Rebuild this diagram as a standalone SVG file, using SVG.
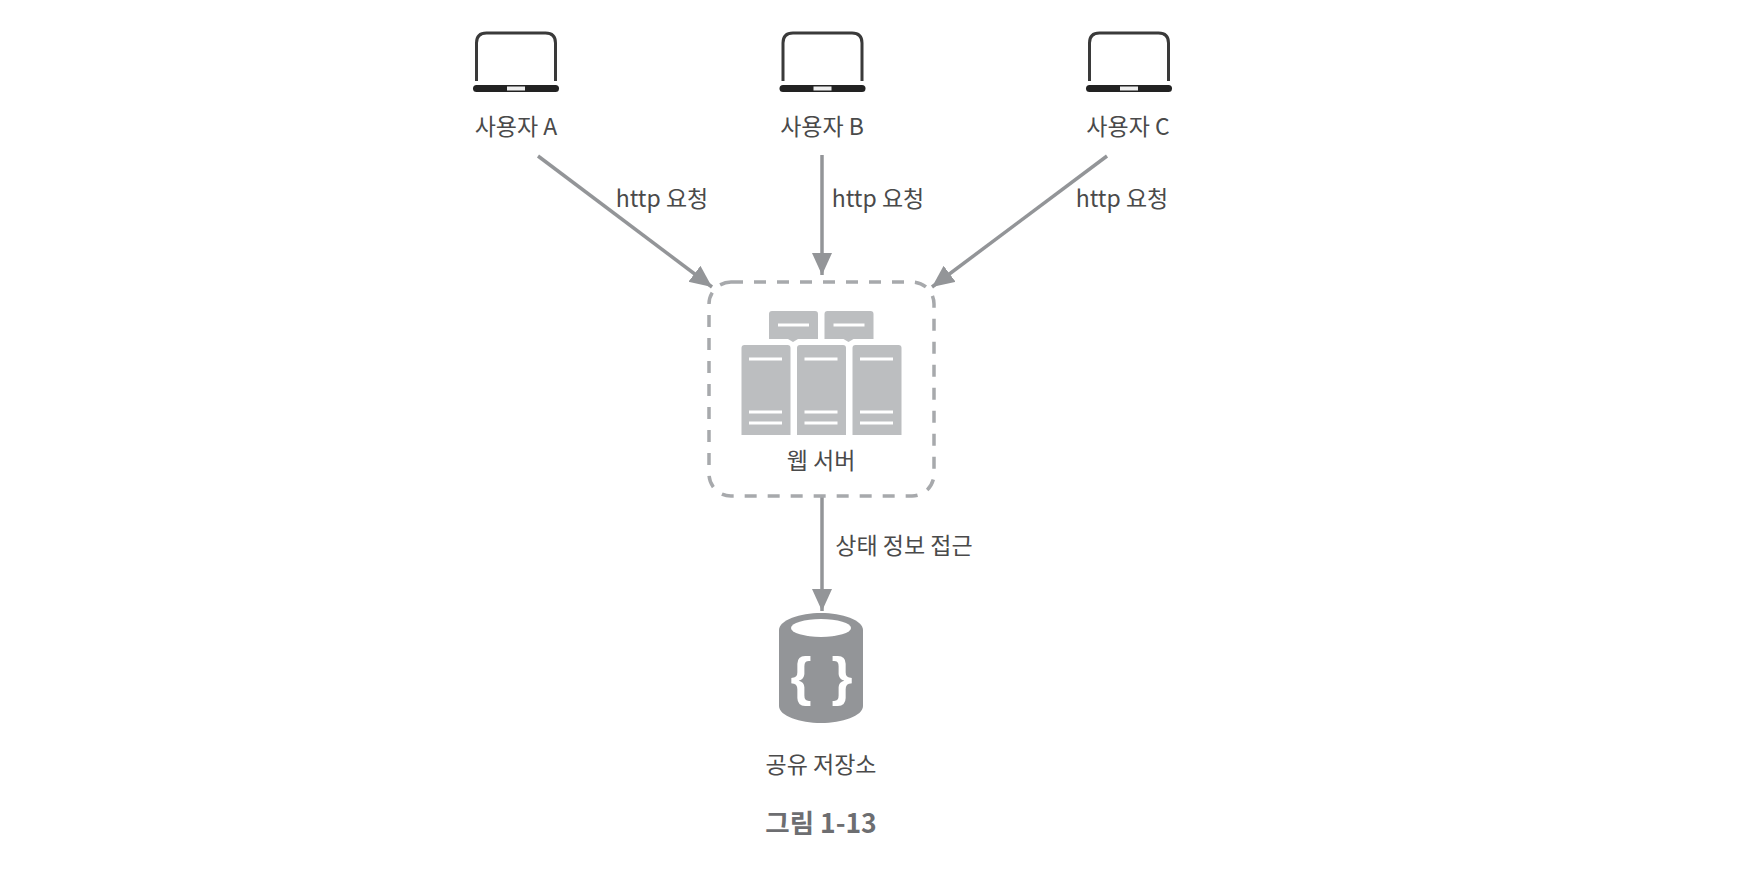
<svg xmlns="http://www.w3.org/2000/svg" width="1748" height="876" viewBox="0 0 1748 876">
<style>
text{font-family:"Noto Sans CJK KR","Noto Sans",sans-serif;font-size:23px;fill:#4a4a4a;text-anchor:middle}
.c{stroke:#939598;stroke-width:3.5;fill:none;marker-end:url(#a)}
.s{fill:#bcbec0}
.l{stroke:#fff;stroke-width:3;fill:none}
.b{font-family:"Liberation Sans",sans-serif;font-size:54px;font-weight:700;fill:#fff}
</style>
<defs>
<marker id="a" markerUnits="userSpaceOnUse" markerWidth="26" markerHeight="24" refX="22" refY="10" orient="auto"><path d="M0 0L22 10L0 20Z" fill="#939598"/></marker>
<g id="lap"><path d="M476.500 81V43Q476.500 33 486.500 33H545.500Q555.500 33 555.500 43V81" fill="none" stroke="#3a3a3a" stroke-width="3"/><rect x="473" y="85" width="86" height="7" rx="3.5" fill="#222"/><rect x="507" y="86.500" width="18" height="4" fill="#eee"/></g>
<g id="srv"><path d="M741.500 348q0-3 3-3h43q3 0 3 3V435H741.500Z" class="s"/><path d="M749 359H782M749 412H782M749 423H782" class="l"/></g>
<g id="bub"><path d="M769 314q0-3 3-3h43q3 0 3 3V339H798L793 342L788 339H769Z" class="s"/><path d="M778 325H809" class="l"/></g>
</defs>
<rect width="1748" height="876" fill="#fff"/>
<g id="connectors">
<path class="c" d="M538 156L712 287"/>
<path class="c" d="M822 155V275"/>
<path class="c" d="M1107 156L932 287"/>
<path class="c" d="M822 497V611"/>
</g>
<g id="userA"><use href="#lap"/><text x="516" y="135">사용자 A</text></g>
<g id="userB"><use href="#lap" x="306.500"/><text x="822" y="135">사용자 B</text></g>
<g id="userC"><use href="#lap" x="613"/><text x="1128" y="135">사용자 C</text></g>
<g id="labels"><text x="662" y="207">http 요청</text><text x="878" y="207">http 요청</text><text x="1122" y="207">http 요청</text><text x="904" y="554">상태 정보 접근</text></g>
<g id="web">
<rect x="709" y="282" width="225" height="214" rx="22" fill="none" stroke="#a7a9ac" stroke-width="3.500" stroke-dasharray="12 11"/>
<use href="#bub"/><use href="#bub" x="55.500"/>
<use href="#srv"/><use href="#srv" x="55.500"/><use href="#srv" x="111"/>
<text x="821" y="469">웹 서버</text>
</g>
<g id="store">
<path d="M779 630C779 620 800 613 821 613S863 620 863 630V706C863 716 842 723 821 723S779 716 779 706Z" fill="#939598"/>
<ellipse cx="821" cy="628" rx="30" ry="9" fill="#fff"/>
<text class="b" x="801" y="695">{</text>
<text class="b" x="842" y="695">}</text>
<text x="821" y="773">공유 저장소</text>
</g>
<text id="caption" x="821" y="833" style="font-size:26.500px;font-weight:700;fill:#6d6e71">그림 1-13</text>
</svg>
